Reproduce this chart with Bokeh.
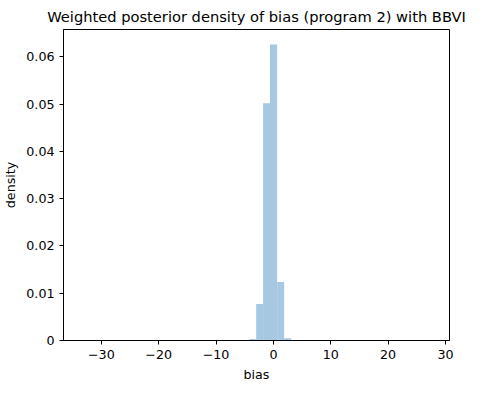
from bokeh.plotting import figure
from bokeh.models import Range1d
from bokeh.embed import file_html
from bokeh.resources import INLINE

edges = [-4.2, -3.0, -1.8, -0.6, 0.65, 1.87, 3.1]
density = [0.0003, 0.0077, 0.0502, 0.0626, 0.0124, 0.0005]

p = figure(width=484, height=384, output_backend="svg", toolbar_location=None,
           title="Weighted posterior density of bias (program 2) with BBVI",
           x_range=Range1d(-36.6, 30.7), y_range=Range1d(0, 0.0658),
           min_border_left=55, min_border_right=35, min_border_top=14, min_border_bottom=36)
p.title.align = "center"
p.title.text_font_size = "11pt"
p.title.text_font_style = "normal"
p.title.text_font = "DejaVu Sans"
p.title.text_color = "black"
p.grid.grid_line_color = None
p.outline_line_color = "black"
p.quad(left=edges[:-1], right=edges[1:], bottom=0, top=density,
       fill_color="#a6c8e1", line_color=None)
p.xaxis.axis_label = "bias"
p.yaxis.axis_label = "density"
p.xaxis.ticker = [-30, -20, -10, 0, 10, 20, 30]
p.yaxis.ticker = [0, 0.01, 0.02, 0.03, 0.04, 0.05, 0.06]
p.yaxis.formatter.use_scientific = False
for ax in (p.xaxis, p.yaxis):
    ax.axis_label_text_font_style = "normal"
    ax.axis_label_text_font = "DejaVu Sans"
    ax.axis_label_text_font_size = "9.5pt"
    ax.axis_label_text_color = "black"
    ax.major_label_text_font = "DejaVu Sans"
    ax.major_label_text_font_size = "9.5pt"
    ax.major_label_text_color = "black"
    ax.minor_tick_line_color = None
    ax.major_tick_in = 0
    ax.major_tick_out = 4
    ax.axis_line_color = "black"
    ax.major_tick_line_color = "black"

open("out.html", "w").write(file_html(p, INLINE))
